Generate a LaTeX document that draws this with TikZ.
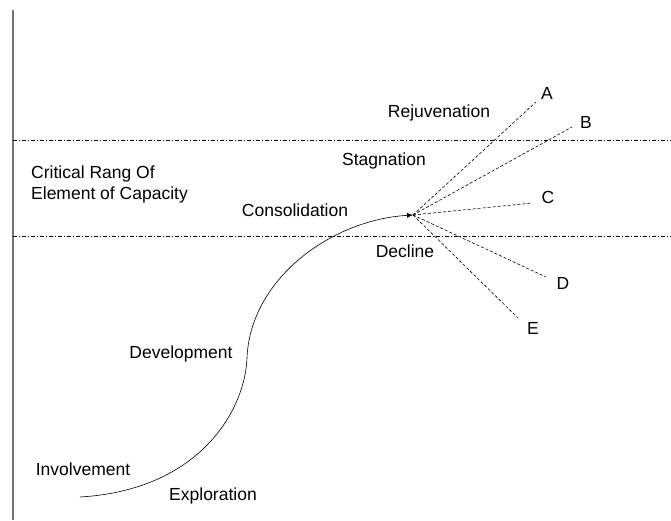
\documentclass[tikz,border=0pt]{standalone}
\usepackage{fontspec}
\setmainfont{Liberation Sans}
\usetikzlibrary{arrows.meta}

\begin{document}
\begin{tikzpicture}[x=1pt, y=1pt,
            every node/.style = {font=\fontsize{17.5}{21}\selectfont, inner sep=0pt},
            level/.style = {draw=black, line width=0.6pt, dash pattern=on 4pt off 2pt on 1pt off 2pt},
            path/.style = {draw=black, line width=0.6pt, dash pattern=on 3pt off 2pt}]
    \useasboundingbox (0,0) rectangle (671,520);
    % axis and critical range
    \draw[line width=1.2pt, black!55] (13,510) -- (13,0);
    \draw[level] (13,380) -- (671,380);
    \draw[level] (13,284) -- (671,284);
    \node[anchor=north west, align=left] (range) at (31,354) {Critical Rang Of\\Element of Capacity};
    % life cycle curve
    \coordinate (start) at (80,23);
    \coordinate (turn) at (413,305);
    \draw[line width=0.6pt, -{Latex[length=6pt,width=5pt]}] (start)
        .. controls (200,30) and (245,110) .. (247,162)
        .. controls (250,240) and (330,300) .. (turn);
    \node (involvement) at (83,51) {Involvement};
    \node (exploration) at (213,24) {Exploration};
    \node (development) at (181,166) {Development};
    \node (consolidation) at (295,310) {Consolidation};
    \node (stagnation) at (384,359) {Stagnation};
    \node (rejuvenation) at (439,407) {Rejuvenation};
    \node (decline) at (405,269) {Decline};
    % possible futures
    \coordinate (endA) at (536,418);
    \coordinate (endB) at (572,393);
    \coordinate (endC) at (532,317);
    \coordinate (endD) at (546,243);
    \coordinate (endE) at (518,202);
    \node (A) at (547,427) {A};
    \node (B) at (586,398) {B};
    \node (C) at (548,323) {C};
    \node (D) at (563,237) {D};
    \node (E) at (533,192) {E};
    \foreach \f in {A,B,C,D,E}
        \draw[path] (turn) -- (end\f);
\end{tikzpicture}
\end{document}
